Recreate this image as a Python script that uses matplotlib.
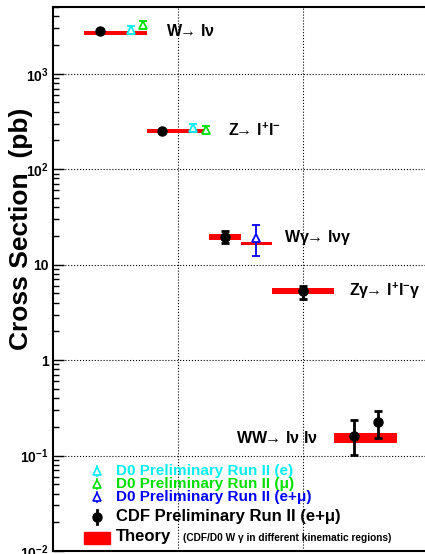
import numpy as np
import matplotlib
matplotlib.use("Agg")
import matplotlib.pyplot as plt
from matplotlib.ticker import FixedLocator, FuncFormatter, LogLocator, NullFormatter

plt.rcParams['font.family'] = ['Liberation Sans', 'DejaVu Sans']
plt.rcParams['font.weight'] = 'bold'
plt.rcParams['mathtext.fontset'] = 'custom'
plt.rcParams['mathtext.rm'] = 'Liberation Sans:bold'
plt.rcParams['mathtext.bf'] = 'Liberation Sans:bold'
plt.rcParams['mathtext.it'] = 'Liberation Sans:bold'

# ===================== DATA =====================
# theory bands: x range (lo, hi) and cross section band (lo, hi) in pb
theory_x0 = [0.25, 0.75, 1.25, 1.50, 1.75, 2.25]
theory_x1 = [0.75, 1.25, 1.50, 1.75, 2.25, 2.75]
theory_lo = [2560, 241, 17.9, 16.0, 4.93, 0.134]
theory_hi = [2780, 261, 20.7, 17.2, 5.69, 0.174]

# CDF preliminary Run II (e+mu)
cdf_x = [0.375, 0.875, 1.375, 2.0, 2.41, 2.60]
cdf_y = [2775, 251, 19.7, 5.3, 0.162, 0.222]
cdf_up = [0, 0, 22.7, 6.0, 0.233, 0.296]
cdf_dn = [0, 0, 17.0, 4.4, 0.102, 0.151]

# D0 preliminary Run II
d0e_x = [0.62, 1.12]
d0e_y = [2860, 271]
d0e_up = [3150, 300]
d0e_dn = [2600, 250]

d0mu_x = [0.72, 1.22]
d0mu_y = [3210, 258]
d0mu_up = [3550, 285]
d0mu_dn = [2950, 238]

d0emu_x = [1.625]
d0emu_y = [19.0]
d0emu_up = [26.3]
d0emu_dn = [12.4]

ARROW = "$\\!\\!\\rightarrow\\!$"
proc_labels = [u"W" + ARROW + u" l\u03bd",
               u"Z" + ARROW + u" l$^{+}$l$^{-}$",
               u"W\u03b3" + ARROW + u" l\u03bd\u03b3",
               u"Z\u03b3" + ARROW + u" l$^{+}$l$^{-}$\u03b3",
               u"WW" + ARROW + u" l\u03bd l\u03bd"]
label_x = [0.90, 1.40, 1.85, 2.37, 1.46]
label_y = [2800, 255, 19.2, 5.3, 0.152]

ytick_vals = [0.01, 0.1, 1, 10, 100, 1000]
ytick_text = [r'$10^{-2}$', r'$10^{-1}$', '1', '10', r'$10^{2}$', r'$10^{3}$']

CYAN = '#00f0f0'
GREEN = '#00e000'
BLUE = '#0000ff'
RED = '#ff0000'

# ===================== PLOT =====================
fig = plt.figure(figsize=(4.25, 5.54), dpi=100)
ax = fig.add_axes([53 / 425, 3 / 554, 375 / 425, 544 / 554])
ax.set_yscale('log')
ax.set_xlim(0, 3)
ax.set_ylim(0.01, 5000)

# theory
for x0, x1, lo, hi in zip(theory_x0, theory_x1, theory_lo, theory_hi):
    ax.bar(x0, hi - lo, bottom=lo, width=x1 - x0, align='edge', color=RED, lw=0, zorder=2)


def asym(y, up, dn):
    y = np.array(y, float)
    return [y - np.array(dn, float), np.array(up, float) - y]


cdf_err = np.array(asym(cdf_y, cdf_up, cdf_dn))
cdf_err[:, :2] = 0
ax.errorbar(cdf_x, cdf_y, yerr=cdf_err, fmt='o', color='black', ms=6.5,
            elinewidth=2, capsize=3, capthick=2, zorder=4)
ax.errorbar(d0e_x, d0e_y, yerr=asym(d0e_y, d0e_up, d0e_dn), fmt='^', color=CYAN,
            mfc='white', ms=6, mew=1.3, elinewidth=1.3, capsize=3, capthick=1.3, zorder=4)
ax.errorbar(d0mu_x, d0mu_y, yerr=asym(d0mu_y, d0mu_up, d0mu_dn), fmt='^', color=GREEN,
            mfc='white', ms=6, mew=1.3, elinewidth=1.3, capsize=3, capthick=1.3, zorder=4)
ax.errorbar(d0emu_x, d0emu_y, yerr=asym(d0emu_y, d0emu_up, d0emu_dn), fmt='^', color=BLUE,
            mfc='white', ms=6, mew=1.3, elinewidth=1.3, capsize=3, capthick=1.3, zorder=4)

for txt, lx, ly in zip(proc_labels, label_x, label_y):
    ax.text(lx, ly, txt, fontsize=11.5, fontweight='bold', ha='left', va='center')

# axes style
ax.yaxis.set_major_locator(FixedLocator(ytick_vals))
ax.yaxis.set_major_formatter(FuncFormatter(
    lambda v, p: ytick_text[int(np.argmin([abs(np.log10(t) - np.log10(v)) for t in ytick_vals]))]))
ax.yaxis.set_minor_locator(LogLocator(base=10, subs=np.arange(2, 10)))
ax.yaxis.set_minor_formatter(NullFormatter())
ax.tick_params(axis='y', which='major', direction='in', length=8, width=1, labelsize=10, pad=3)
ax.tick_params(axis='y', which='minor', direction='in', length=4.5, width=1)
ax.set_xticks([1, 2])
ax.tick_params(axis='x', length=0, labelbottom=False)
ax.grid(True, which='major', color='black', ls=':', lw=0.8)
for s in ax.spines.values():
    s.set_linewidth(1.5)

fig.text(21 / 425, 1 - 229 / 554, "Cross Section  (pb)", rotation=90, ha='center', va='center',
         fontsize=19, fontweight='bold')


# legend
def fx(px):
    return px / 425


def fy(py):
    return 1 - py / 554


leg = [("D0 Preliminary Run II (e)", CYAN, 471, '^', 11),
       (u"D0 Preliminary Run II (\u03bc)", GREEN, 484, '^', 11),
       (u"D0 Preliminary Run II (e+\u03bc)", BLUE, 497, '^', 11),
       (u"CDF Preliminary Run II (e+\u03bc)", 'black', 517, 'o', 12)]
for txt, col, py, mk, fs in leg:
    if mk == 'o':
        fig.lines.append(plt.Line2D([fx(97), fx(97)], [fy(py - 7), fy(py + 7)], color=col, lw=2,
                                    transform=fig.transFigure))
        fig.lines.append(plt.Line2D([fx(97)], [fy(py)], marker='o', ms=6.5, color=col,
                                    transform=fig.transFigure))
    else:
        fig.lines.append(plt.Line2D([fx(97), fx(97)], [fy(py - 5), fy(py + 5)], color=col, lw=1.2,
                                    transform=fig.transFigure))
        fig.lines.append(plt.Line2D([fx(97)], [fy(py)], marker='^', ms=6, color=col, mfc='white',
                                    mew=1.2, transform=fig.transFigure))
    fig.text(fx(116), fy(py), txt, color=col, fontsize=fs, fontweight='bold', ha='left', va='center')

fig.patches.append(plt.Rectangle((fx(84), fy(544)), fx(110) - fx(84), fy(532) - fy(544),
                                 color=RED, transform=fig.transFigure))
fig.text(fx(116), fy(536), "Theory", fontsize=12, fontweight='bold', ha='left', va='center')
fig.text(fx(183), fy(538), u"(CDF/D0 W \u03b3 in different kinematic regions)", fontsize=7.3,
         fontweight='bold', ha='left', va='center')

fig.savefig("out.png", dpi=100)
